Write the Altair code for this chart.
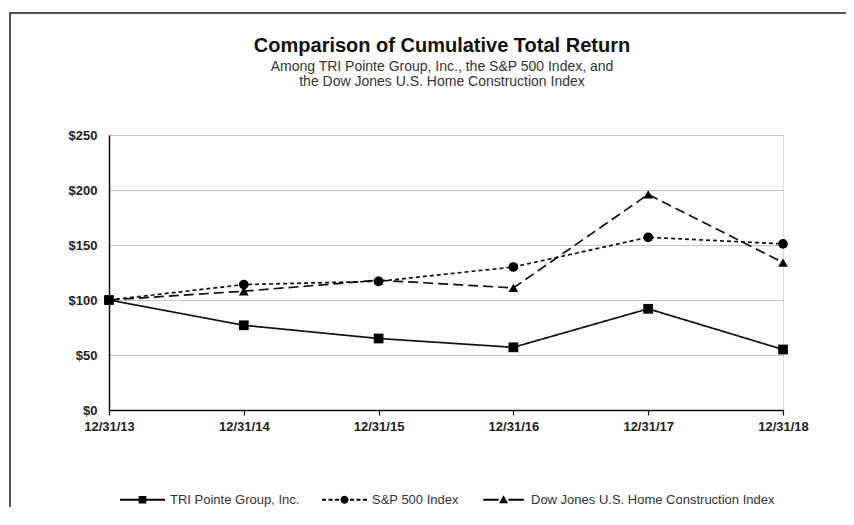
import altair as alt
import pandas as pd

dates = ["12/31/13", "12/31/14", "12/31/15", "12/31/16", "12/31/17", "12/31/18"]
series_names = ["TRI Pointe Group, Inc.", "S&P 500 Index", "Dow Jones U.S. Home Construction Index"]
tri_values = [100, 77, 65, 57, 92, 55]
sp500_values = [100, 114, 117, 130, 157, 151]
djhc_values = [100, 108, 118, 111, 196, 134]
y_ticks = [0, 50, 100, 150, 200, 250]

rows = []
for name, vals in zip(series_names, [tri_values, sp500_values, djhc_values]):
    for d, v in zip(dates, vals):
        rows.append({"date": d, "series": name, "value": v})
df = pd.DataFrame(rows)

FONT = "Liberation Sans"

x_enc = alt.X("date:O", sort=dates,
              scale=alt.Scale(type="point", padding=0),
              axis=alt.Axis(title=None, labelAngle=0, labelFontWeight="bold",
                            labelFontSize=13, labelColor="#222", labelFont=FONT,
                            tickSize=5, tickColor="#111", tickWidth=1.2,
                            domainColor="#111", domainWidth=1.5, labelPadding=5,
                            grid=False))
y_enc = alt.Y("value:Q",
              scale=alt.Scale(domain=[0, 250], nice=False),
              axis=alt.Axis(title=None, values=y_ticks, labelExpr="'$' + datum.value",
                            labelFontWeight="bold", labelFontSize=13, labelColor="#222",
                            labelFont=FONT, ticks=False, labelPadding=12,
                            domainColor="#111", domainWidth=1.5,
                            grid=True, gridColor="#c4c4c4", gridWidth=1.2))

lines = alt.Chart(df).mark_line(color="#111", strokeWidth=1.7, opacity=1).encode(
    x=x_enc, y=y_enc,
    strokeDash=alt.StrokeDash("series:N", sort=series_names,
                              scale=alt.Scale(domain=series_names,
                                              range=[[1, 0], [4, 3], [10, 5]]),
                              legend=None),
    detail="series:N",
)

points = alt.Chart(df).mark_point(filled=True, color="#000", opacity=1, size=95).encode(
    x=x_enc, y=y_enc,
    shape=alt.Shape("series:N", sort=series_names,
                    scale=alt.Scale(domain=series_names,
                                    range=["square", "circle", "triangle-up"]),
                    legend=None),
)

# legend-only layer: symbol paths combine the line style and the marker
leg_paths = [
    "M-1,-0.045H1V0.045H-1Z M-0.17,-0.17H0.17V0.17H-0.17Z",
    "M-1,-0.045H-0.82V0.045H-1Z M-0.71,-0.045H-0.53V0.045H-0.71Z M-0.42,-0.045H-0.24V0.045H-0.42Z "
    "M0.24,-0.045H0.42V0.045H0.24Z M0.53,-0.045H0.71V0.045H0.53Z M0.82,-0.045H1V0.045H0.82Z "
    "M-0.18,0 A0.18,0.18 0 1,0 0.18,0 A0.18,0.18 0 1,0 -0.18,0 Z",
    "M-0.9,-0.045H-0.22V0.045H-0.9Z M0.22,-0.045H0.9V0.045H0.22Z M0,-0.2 L0.2,0.15 L-0.2,0.15 Z",
]
legend_layer = alt.Chart(df).transform_filter("false").mark_point(
    filled=True, color="#000", opacity=1).encode(
    x=x_enc, y=y_enc,
    shape=alt.Shape("series:N", sort=series_names,
                    scale=alt.Scale(domain=series_names, range=leg_paths),
                    legend=alt.Legend(title=None, orient="none", direction="horizontal",
                                      legendX=11, legendY=342,
                                      symbolSize=2025, symbolFillColor="#000",
                                      symbolStrokeWidth=0, symbolOpacity=1,
                                      labelFont=FONT, labelFontSize=13, labelColor="#333",
                                      labelOffset=5, columnPadding=22, labelLimit=500)),
)

frame_data = alt.Data(values=[{"a": 1}])
frame_left = alt.Chart(frame_data).mark_rule(stroke="#555", strokeWidth=2).encode(
    x=alt.value(-99), y=alt.value(-122), y2=alt.value(420))
frame_top = alt.Chart(frame_data).mark_rule(stroke="#555", strokeWidth=2).encode(
    x=alt.value(-100), x2=alt.value(737), y=alt.value(-122))

chart = alt.layer(frame_left, frame_top, lines, points, legend_layer).resolve_scale(
    shape="independent"
).properties(
    width=674, height=275,
    padding={"left": 101, "top": 127, "right": 63, "bottom": 97},
    autosize=alt.AutoSizeParams(type="none"),
    title=alt.TitleParams(
        text="Comparison of Cumulative Total Return",
        subtitle=["Among TRI Pointe Group, Inc., the S&P 500 Index, and",
                  "the Dow Jones U.S. Home Construction Index"],
        font=FONT, fontSize=20, fontWeight="bold", color="#111",
        subtitleFont=FONT, subtitleFontSize=14, subtitleColor="#333",
        subtitlePadding=4, subtitleLineHeight=15,
        anchor="middle", offset=-77, dx=-4,
    ),
).configure_view(stroke="#999", strokeWidth=1.5).configure(background="white")

chart.save("out.html", embed_options={"renderer": "svg", "actions": False})
